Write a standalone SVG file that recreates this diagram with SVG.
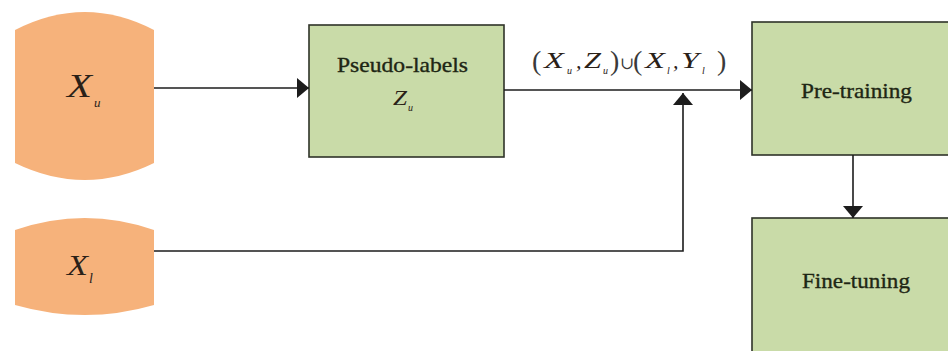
<svg xmlns="http://www.w3.org/2000/svg" width="948" height="351" viewBox="0 0 948 351">
  <style>
    .src { fill: #f6b27b; }
    .box { fill: #c9dba8; stroke: #2f3329; stroke-width: 1.6; }
    .lbl { font-family: "Liberation Serif", "Times New Roman", serif; fill: #1e2614; stroke: #1e2614; stroke-width: 0.35; }
    .math { font-family: "Liberation Serif", "Times New Roman", serif; font-style: italic; fill: #2a2118; }
    .up { font-family: "Liberation Serif", "DejaVu Serif", serif; fill: #3a3a3a; }
    .wire { fill: none; stroke: #1c1c1c; stroke-width: 1.6; }
  </style>
  <defs>
    <marker id="head" markerUnits="userSpaceOnUse" markerWidth="13" markerHeight="20" refX="12" refY="10" orient="auto">
      <path d="M0,0 L12,10 L0,20 Z" fill="#1c1c1c"/>
    </marker>
  </defs>

  <rect width="948" height="351" fill="#ffffff"/>

  <!-- unlabeled data -->
  <g id="node-xu">
    <path class="src" d="M15,30 Q85,-6 154,30 L154,163 Q85,197 15,163 Z"/>
    <text class="math" x="67" y="97" font-size="33" textLength="25" lengthAdjust="spacingAndGlyphs">X</text>
    <text class="math" x="94" y="107" font-size="13">u</text>
  </g>

  <!-- labeled data -->
  <g id="node-xl">
    <path class="src" d="M15,230 Q85,206 154,230 L154,305 Q85,325 15,305 Z"/>
    <text class="math" x="67" y="275" font-size="29" textLength="21" lengthAdjust="spacingAndGlyphs">X</text>
    <text class="math" x="89" y="283" font-size="14">l</text>
  </g>

  <!-- pseudo-label generation -->
  <g id="node-pseudo">
    <rect class="box" x="309" y="25" width="195" height="132"/>
    <text class="lbl" x="337" y="72" font-size="21" textLength="131" lengthAdjust="spacingAndGlyphs">Pseudo-labels</text>
    <text class="math" x="393" y="105" font-size="22" textLength="14" lengthAdjust="spacingAndGlyphs">Z</text>
    <text class="math" x="408" y="111" font-size="10">u</text>
  </g>

  <!-- pre-training stage -->
  <g id="node-pretrain">
    <rect class="box" x="752" y="22" width="210" height="133"/>
    <text class="lbl" x="801" y="98" font-size="22" textLength="111" lengthAdjust="spacingAndGlyphs">Pre-training</text>
  </g>

  <!-- fine-tuning stage -->
  <g id="node-finetune">
    <rect class="box" x="752" y="218" width="210" height="145"/>
    <text class="lbl" x="802" y="288" font-size="22" textLength="108" lengthAdjust="spacingAndGlyphs">Fine-tuning</text>
  </g>

  <!-- connectors -->
  <g id="connectors">
    <path class="wire" d="M154,88 L309,88" marker-end="url(#head)"/>
    <path class="wire" d="M504,90 L752,90" marker-end="url(#head)"/>
    <path class="wire" d="M154,251 L683,251 L683,93" marker-end="url(#head)"/>
    <path class="wire" d="M853,155 L853,218" marker-end="url(#head)"/>
  </g>

  <!-- combined training set label: (X_u, Z_u) ∪ (X_l, Y_l) -->
  <g id="edge-label">
    <text class="up" x="532" y="70" font-size="28">(</text>
    <text class="math" x="544" y="68" font-size="24" textLength="20" lengthAdjust="spacingAndGlyphs">X</text>
    <text class="math" x="567" y="74" font-size="10">u</text>
    <text class="math" x="576" y="68" font-size="22">,</text>
    <text class="math" x="584" y="68" font-size="24" textLength="17" lengthAdjust="spacingAndGlyphs">Z</text>
    <text class="math" x="603" y="74" font-size="10">u</text>
    <text class="up" x="610" y="70" font-size="28">)</text>
    <text class="up" x="620" y="69" font-size="17">∪</text>
    <text class="up" x="633" y="70" font-size="28">(</text>
    <text class="math" x="645" y="68" font-size="24" textLength="20" lengthAdjust="spacingAndGlyphs">X</text>
    <text class="math" x="667" y="74" font-size="10">l</text>
    <text class="math" x="673" y="68" font-size="22">,</text>
    <text class="math" x="681" y="68" font-size="24" textLength="18" lengthAdjust="spacingAndGlyphs">Y</text>
    <text class="math" x="702" y="74" font-size="10">l</text>
    <text class="up" x="717" y="70" font-size="28">)</text>
  </g>
</svg>
